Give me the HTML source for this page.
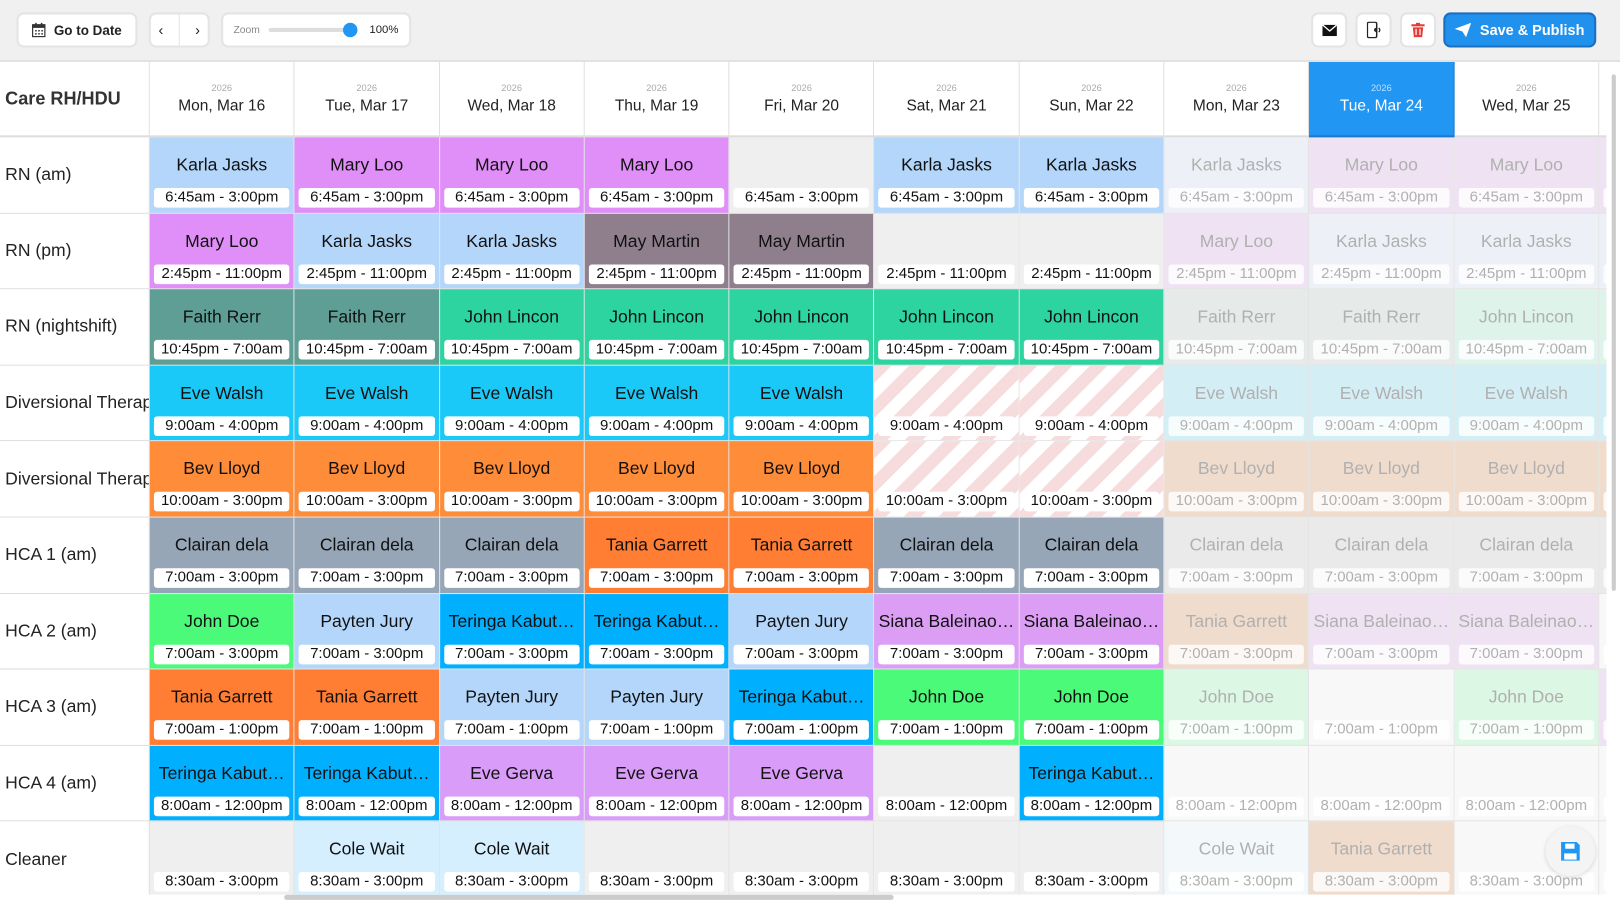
<!DOCTYPE html>
<html><head><meta charset="utf-8"><style>
*{box-sizing:border-box;margin:0;padding:0}
html,body{width:1620px;height:901px;overflow:hidden;background:#fff;font-family:"Liberation Sans",sans-serif}
#w{width:1568px;height:872px;transform:scale(1.03316);transform-origin:0 0;position:relative;background:#fff}
#top{position:absolute;left:0;top:0;width:1568px;height:60px;background:#f0f0f0;border-bottom:2px solid #e2e2e2}
.btn{position:absolute;top:12px;height:34px;background:#fff;border:2px solid #e4e4e4;border-radius:7px;display:flex;align-items:center;justify-content:center;font-size:13px;color:#222}
#grid{position:absolute;left:0;top:60px;width:1555px;height:806px;overflow:hidden;display:grid;grid-template-columns:145px repeat(11,140.3px);grid-template-rows:73px repeat(10,73.6px)}
.h{border-right:1px solid #ddd;border-bottom:2px solid #ddd;text-align:center;padding-top:20px;background:#fff}
.h s{display:block;text-decoration:none;font-size:9px;color:#aaa;height:14px}
.h span{font-size:15px;color:#222}
.h.t{background:#2196f3;border-color:#1976d2}.h.t s{color:#bfe0ff}.h.t span{color:#fff}
.l{border-right:1px solid #ddd;border-bottom:1px solid #ddd;display:flex;align-items:center;padding-left:5px;font-size:17px;color:#222;white-space:nowrap;overflow:hidden;background:#fff}
.c{position:relative;border-right:1px solid #e4e4e4;border-bottom:1px solid #e4e4e4;background:#efefef;overflow:hidden}
.c b{position:absolute;left:0;right:0;top:17px;text-align:center;font-weight:normal;font-size:17px;color:#111;white-space:nowrap;overflow:hidden}
.c i{position:absolute;left:4px;right:4px;top:49px;height:19px;background:#fff;border-radius:3px;text-align:center;font-style:normal;font-size:14.5px;line-height:19px;color:#111;white-space:nowrap;overflow:hidden}
.k{background:#b3d6fa}.m{background:#df8ff7}.mm{background:#8f7f8d}.fr{background:#5f9e95}.jl{background:#2dd49f}
.ew{background:#1ac9f7}.bl{background:#ff8c38}.cd{background:#97a6b7}.tg{background:#ff7e33}.jd{background:#4cfa7a}
.tk{background:#00b0ff}.sb{background:#dc9ef5}.eg{background:#d99cf9}.cw{background:#d5efff}
.st{background:repeating-linear-gradient(135deg,#f6dcdc 0 12px,#fff 12px 24px)}
.f b,.f i{color:#b0b0b0}.f i{background:rgba(255,255,255,.8)}
.f{background:#f8f8f8}.f.k{background:#edf1f7}.f.m,.f.sb{background:#efe3f3}.f.fr{background:#e6ebea}.f.jl{background:#def3ea}
.f.ew{background:#d4eef5}.f.bl,.f.tg{background:#f0dccd}.f.cd{background:#eaeaea}.f.jd{background:#dcf7e3}.f.cw{background:#f3f8fb}
#vs{position:absolute;left:1555px;top:60px;width:13px;height:812px;background:#fff}
#vs div{position:absolute;left:5px;top:12px;width:4px;height:500px;background:#ccc;border-radius:2px}
#hs{position:absolute;left:0;top:866px;width:1555px;height:6px;background:#fff}
#hs div{position:absolute;left:275px;top:0;width:590px;height:5px;background:#ccc;border-radius:3px}
#fab{position:absolute;left:1496px;top:800px;width:48px;height:48px;border-radius:50%;background:#f4f4f4;box-shadow:0 1px 4px rgba(0,0,0,.15);display:flex;align-items:center;justify-content:center}
</style></head><body><div id="w">
<div id="top">
<div class="btn" style="left:16px;width:117px;font-weight:bold"><svg width="13" height="14" viewBox="0 0 13 14" style="margin-right:8px"><rect x="0.5" y="2" width="12" height="11.5" fill="none" stroke="#333" stroke-width="1.3"/><rect x="0.5" y="2" width="12" height="3" fill="#333"/><rect x="3" y="0" width="1.5" height="3" fill="#333"/><rect x="8.5" y="0" width="1.5" height="3" fill="#333"/><g fill="#333"><rect x="3" y="7" width="1.5" height="1.5"/><rect x="6" y="7" width="1.5" height="1.5"/><rect x="9" y="7" width="1.5" height="1.5"/><rect x="3" y="10" width="1.5" height="1.5"/><rect x="6" y="10" width="1.5" height="1.5"/><rect x="9" y="10" width="1.5" height="1.5"/></g></svg>Go to Date</div>
<div class="btn" style="left:144px;width:59px;justify-content:space-around;font-size:14px"><span>‹</span><span style="width:1px;height:30px;background:#e4e4e4"></span><span>›</span></div>
<div class="btn" style="left:214px;width:184px;justify-content:flex-start;padding-left:10px;font-size:10px;color:#888">Zoom<span style="display:inline-block;margin-left:8px;width:80px;height:4px;background:#ddd;border-radius:2px;position:relative"><span style="position:absolute;right:-6px;top:-5px;width:14px;height:14px;border-radius:50%;background:#2196f3"></span></span><span style="margin-left:18px;color:#222;font-size:11px">100%</span></div>
<div class="btn" style="left:1269px;width:35px"><svg width="14" height="11"><rect width="14" height="11" fill="#111"/><path d="M0 0 L7 6 L14 0" fill="none" stroke="#fff" stroke-width="1.3"/></svg></div>
<div class="btn" style="left:1312px;width:35px"><svg width="14" height="16"><rect x="0.5" y="0.5" width="9" height="15" rx="1.5" fill="none" stroke="#222" stroke-width="1.4"/><path d="M7 7 L10 5 L10 11 L7 9Z" fill="#222"/><path d="M11.5 6 Q13.5 8 11.5 10" fill="none" stroke="#222" stroke-width="1.2"/></svg></div>
<div class="btn" style="left:1355px;width:35px"><svg width="13" height="14"><rect x="0" y="1.5" width="13" height="2" fill="#e53935"/><rect x="4.5" y="0" width="4" height="2" fill="#e53935"/><path d="M1.5 4.5 H11.5 L10.5 14 H2.5Z" fill="#e53935"/><rect x="4" y="6" width="1.2" height="6" fill="#fff"/><rect x="7.8" y="6" width="1.2" height="6" fill="#fff"/></svg></div>
<div class="btn" style="left:1397px;width:148px;background:#2191ee;border-color:#1a6fc0;color:#fff;font-weight:bold;font-size:14px"><svg width="16" height="14" style="margin-right:8px"><path d="M0 6 L16 0 L11 14 L7.5 8.5Z" fill="#fff"/></svg>Save &amp; Publish</div>
</div>
<div id="grid">
<div class="l" style="border-bottom:2px solid #ddd;font-size:17.5px;font-weight:bold;color:#333">Care RH/HDU</div>
<div class="h"><s>2026</s><span>Mon, Mar 16</span></div><div class="h"><s>2026</s><span>Tue, Mar 17</span></div><div class="h"><s>2026</s><span>Wed, Mar 18</span></div><div class="h"><s>2026</s><span>Thu, Mar 19</span></div><div class="h"><s>2026</s><span>Fri, Mar 20</span></div><div class="h"><s>2026</s><span>Sat, Mar 21</span></div><div class="h"><s>2026</s><span>Sun, Mar 22</span></div><div class="h"><s>2026</s><span>Mon, Mar 23</span></div><div class="h t"><s>2026</s><span>Tue, Mar 24</span></div><div class="h"><s>2026</s><span>Wed, Mar 25</span></div><div class="h"><s>2026</s><span>Thu, Mar 26</span></div>

<div class="l">RN (am)</div>
<div class="c k"><b>Karla Jasks</b><i>6:45am - 3:00pm</i></div><div class="c m"><b>Mary Loo</b><i>6:45am - 3:00pm</i></div><div class="c m"><b>Mary Loo</b><i>6:45am - 3:00pm</i></div><div class="c m"><b>Mary Loo</b><i>6:45am - 3:00pm</i></div><div class="c"><i>6:45am - 3:00pm</i></div><div class="c k"><b>Karla Jasks</b><i>6:45am - 3:00pm</i></div><div class="c k"><b>Karla Jasks</b><i>6:45am - 3:00pm</i></div><div class="c f k"><b>Karla Jasks</b><i>6:45am - 3:00pm</i></div><div class="c f m"><b>Mary Loo</b><i>6:45am - 3:00pm</i></div><div class="c f m"><b>Mary Loo</b><i>6:45am - 3:00pm</i></div><div class="c f m"><b>Mary Loo</b><i>6:45am - 3:00pm</i></div>

<div class="l">RN (pm)</div>
<div class="c m"><b>Mary Loo</b><i>2:45pm - 11:00pm</i></div><div class="c k"><b>Karla Jasks</b><i>2:45pm - 11:00pm</i></div><div class="c k"><b>Karla Jasks</b><i>2:45pm - 11:00pm</i></div><div class="c mm"><b>May Martin</b><i>2:45pm - 11:00pm</i></div><div class="c mm"><b>May Martin</b><i>2:45pm - 11:00pm</i></div><div class="c"><i>2:45pm - 11:00pm</i></div><div class="c"><i>2:45pm - 11:00pm</i></div><div class="c f m"><b>Mary Loo</b><i>2:45pm - 11:00pm</i></div><div class="c f k"><b>Karla Jasks</b><i>2:45pm - 11:00pm</i></div><div class="c f k"><b>Karla Jasks</b><i>2:45pm - 11:00pm</i></div><div class="c f k"><b>Karla Jasks</b><i>2:45pm - 11:00pm</i></div>

<div class="l">RN (nightshift)</div>
<div class="c fr"><b>Faith Rerr</b><i>10:45pm - 7:00am</i></div><div class="c fr"><b>Faith Rerr</b><i>10:45pm - 7:00am</i></div><div class="c jl"><b>John Lincon</b><i>10:45pm - 7:00am</i></div><div class="c jl"><b>John Lincon</b><i>10:45pm - 7:00am</i></div><div class="c jl"><b>John Lincon</b><i>10:45pm - 7:00am</i></div><div class="c jl"><b>John Lincon</b><i>10:45pm - 7:00am</i></div><div class="c jl"><b>John Lincon</b><i>10:45pm - 7:00am</i></div><div class="c f fr"><b>Faith Rerr</b><i>10:45pm - 7:00am</i></div><div class="c f fr"><b>Faith Rerr</b><i>10:45pm - 7:00am</i></div><div class="c f jl"><b>John Lincon</b><i>10:45pm - 7:00am</i></div><div class="c f jl"><b>John Lincon</b><i>10:45pm - 7:00am</i></div>

<div class="l">Diversional Therapist</div>
<div class="c ew"><b>Eve Walsh</b><i>9:00am - 4:00pm</i></div><div class="c ew"><b>Eve Walsh</b><i>9:00am - 4:00pm</i></div><div class="c ew"><b>Eve Walsh</b><i>9:00am - 4:00pm</i></div><div class="c ew"><b>Eve Walsh</b><i>9:00am - 4:00pm</i></div><div class="c ew"><b>Eve Walsh</b><i>9:00am - 4:00pm</i></div><div class="c st"><i>9:00am - 4:00pm</i></div><div class="c st"><i>9:00am - 4:00pm</i></div><div class="c f ew"><b>Eve Walsh</b><i>9:00am - 4:00pm</i></div><div class="c f ew"><b>Eve Walsh</b><i>9:00am - 4:00pm</i></div><div class="c f ew"><b>Eve Walsh</b><i>9:00am - 4:00pm</i></div><div class="c f ew"><b>Eve Walsh</b><i>9:00am - 4:00pm</i></div>

<div class="l">Diversional Therapist</div>
<div class="c bl"><b>Bev Lloyd</b><i>10:00am - 3:00pm</i></div><div class="c bl"><b>Bev Lloyd</b><i>10:00am - 3:00pm</i></div><div class="c bl"><b>Bev Lloyd</b><i>10:00am - 3:00pm</i></div><div class="c bl"><b>Bev Lloyd</b><i>10:00am - 3:00pm</i></div><div class="c bl"><b>Bev Lloyd</b><i>10:00am - 3:00pm</i></div><div class="c st"><i>10:00am - 3:00pm</i></div><div class="c st"><i>10:00am - 3:00pm</i></div><div class="c f bl"><b>Bev Lloyd</b><i>10:00am - 3:00pm</i></div><div class="c f bl"><b>Bev Lloyd</b><i>10:00am - 3:00pm</i></div><div class="c f bl"><b>Bev Lloyd</b><i>10:00am - 3:00pm</i></div><div class="c f bl"><b>Bev Lloyd</b><i>10:00am - 3:00pm</i></div>

<div class="l">HCA 1 (am)</div>
<div class="c cd"><b>Clairan dela</b><i>7:00am - 3:00pm</i></div><div class="c cd"><b>Clairan dela</b><i>7:00am - 3:00pm</i></div><div class="c cd"><b>Clairan dela</b><i>7:00am - 3:00pm</i></div><div class="c tg"><b>Tania Garrett</b><i>7:00am - 3:00pm</i></div><div class="c tg"><b>Tania Garrett</b><i>7:00am - 3:00pm</i></div><div class="c cd"><b>Clairan dela</b><i>7:00am - 3:00pm</i></div><div class="c cd"><b>Clairan dela</b><i>7:00am - 3:00pm</i></div><div class="c f cd"><b>Clairan dela</b><i>7:00am - 3:00pm</i></div><div class="c f cd"><b>Clairan dela</b><i>7:00am - 3:00pm</i></div><div class="c f cd"><b>Clairan dela</b><i>7:00am - 3:00pm</i></div><div class="c f cd"><b>Clairan dela</b><i>7:00am - 3:00pm</i></div>

<div class="l">HCA 2 (am)</div>
<div class="c jd"><b>John Doe</b><i>7:00am - 3:00pm</i></div><div class="c k"><b>Payten Jury</b><i>7:00am - 3:00pm</i></div><div class="c tk"><b>Teringa Kabut…</b><i>7:00am - 3:00pm</i></div><div class="c tk"><b>Teringa Kabut…</b><i>7:00am - 3:00pm</i></div><div class="c k"><b>Payten Jury</b><i>7:00am - 3:00pm</i></div><div class="c sb"><b>Siana Baleinao…</b><i>7:00am - 3:00pm</i></div><div class="c sb"><b>Siana Baleinao…</b><i>7:00am - 3:00pm</i></div><div class="c f tg"><b>Tania Garrett</b><i>7:00am - 3:00pm</i></div><div class="c f sb"><b>Siana Baleinao…</b><i>7:00am - 3:00pm</i></div><div class="c f sb"><b>Siana Baleinao…</b><i>7:00am - 3:00pm</i></div><div class="c f"><i>7:00am - 3:00pm</i></div>

<div class="l">HCA 3 (am)</div>
<div class="c tg"><b>Tania Garrett</b><i>7:00am - 1:00pm</i></div><div class="c tg"><b>Tania Garrett</b><i>7:00am - 1:00pm</i></div><div class="c k"><b>Payten Jury</b><i>7:00am - 1:00pm</i></div><div class="c k"><b>Payten Jury</b><i>7:00am - 1:00pm</i></div><div class="c tk"><b>Teringa Kabut…</b><i>7:00am - 1:00pm</i></div><div class="c jd"><b>John Doe</b><i>7:00am - 1:00pm</i></div><div class="c jd"><b>John Doe</b><i>7:00am - 1:00pm</i></div><div class="c f jd"><b>John Doe</b><i>7:00am - 1:00pm</i></div><div class="c f"><i>7:00am - 1:00pm</i></div><div class="c f jd"><b>John Doe</b><i>7:00am - 1:00pm</i></div><div class="c f sb"><b>Siana</b><i>7:00am - 1:00pm</i></div>

<div class="l">HCA 4 (am)</div>
<div class="c tk"><b>Teringa Kabut…</b><i>8:00am - 12:00pm</i></div><div class="c tk"><b>Teringa Kabut…</b><i>8:00am - 12:00pm</i></div><div class="c eg"><b>Eve Gerva</b><i>8:00am - 12:00pm</i></div><div class="c eg"><b>Eve Gerva</b><i>8:00am - 12:00pm</i></div><div class="c eg"><b>Eve Gerva</b><i>8:00am - 12:00pm</i></div><div class="c"><i>8:00am - 12:00pm</i></div><div class="c tk"><b>Teringa Kabut…</b><i>8:00am - 12:00pm</i></div><div class="c f"><i>8:00am - 12:00pm</i></div><div class="c f"><i>8:00am - 12:00pm</i></div><div class="c f"><i>8:00am - 12:00pm</i></div><div class="c f"><i>8:00am - 12:00pm</i></div>

<div class="l">Cleaner</div>
<div class="c"><i>8:30am - 3:00pm</i></div><div class="c cw"><b>Cole Wait</b><i>8:30am - 3:00pm</i></div><div class="c cw"><b>Cole Wait</b><i>8:30am - 3:00pm</i></div><div class="c"><i>8:30am - 3:00pm</i></div><div class="c"><i>8:30am - 3:00pm</i></div><div class="c"><i>8:30am - 3:00pm</i></div><div class="c"><i>8:30am - 3:00pm</i></div><div class="c f cw"><b>Cole Wait</b><i>8:30am - 3:00pm</i></div><div class="c f tg"><b>Tania Garrett</b><i>8:30am - 3:00pm</i></div><div class="c f"><i>8:30am - 3:00pm</i></div><div class="c f"><i>8:30am - 3:00pm</i></div>
</div>
<div id="vs"><div></div></div>
<div id="hs"><div></div></div>
<div id="fab"><svg width="22" height="22" viewBox="0 0 22 22"><path d="M2 2 H17 L20 5 V20 H2Z" fill="#2196f3"/><rect x="6" y="3.5" width="9" height="5" fill="#fff"/><rect x="5" y="13" width="12" height="6" fill="#fff"/></svg></div>
</div></body></html>
